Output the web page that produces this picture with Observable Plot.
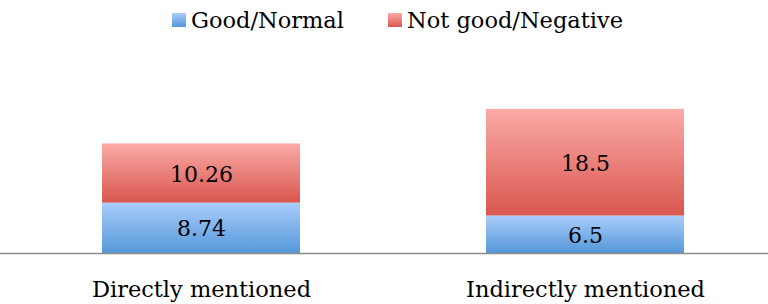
<!DOCTYPE html>
<html>
<head>
<meta charset="utf-8">
<script src="https://cdn.jsdelivr.net/npm/d3@7"></script>
<script src="https://cdn.jsdelivr.net/npm/@observablehq/plot@0.6"></script>
<style>
  html, body { margin: 0; padding: 0; background: #fff; }
  body { width: 768px; height: 304px; overflow: hidden; font-family: "DejaVu Serif", serif; }
  #legend { height: 40px; position: relative; font-size: 22.5px; color: #000; }
  .item { position: absolute; top: 5px; display: flex; align-items: center; white-space: nowrap; line-height: 30px; }
  .sw { width: 14px; height: 14px; margin-right: 5px; display: inline-block; }
  svg { display: block; }
</style>
</head>
<body>
<div id="legend"></div>
<div id="chart"></div>
<script>
const categories = ["Directly mentioned", "Indirectly mentioned"];
const seriesNames = ["Good/Normal", "Not good/Negative"];
const goodValues = [8.74, 6.5];
const badValues = [10.26, 18.5];
const valueLabels = [["8.74", "10.26"], ["6.5", "18.5"]];

const data = [];
categories.forEach((c, i) => {
  data.push({category: c, series: seriesNames[0], value: goodValues[i], label: valueLabels[i][0]});
  data.push({category: c, series: seriesNames[1], value: badValues[i], label: valueLabels[i][1]});
});

const gradIds = {"Good/Normal": "gBlue", "Not good/Negative": "gRed"};
const gradStops = {
  gBlue: ["#aacdfb", "#5598da"],
  gRed: ["#fbaaa7", "#d9574e"]
};

// legend
const legend = document.getElementById("legend");
const legendX = [172, 388];
seriesNames.forEach((s, i) => {
  const it = document.createElement("div");
  it.className = "item";
  it.style.left = legendX[i] + "px";
  const sw = document.createElement("span");
  sw.className = "sw";
  const st = gradStops[gradIds[s]];
  sw.style.background = `linear-gradient(${st[0]}, ${st[1]})`;
  it.appendChild(sw);
  it.appendChild(document.createTextNode(s));
  legend.appendChild(it);
});

const defs = () => {
  const svgNS = "http://www.w3.org/2000/svg";
  const d = document.createElementNS(svgNS, "defs");
  for (const [id, [a, b]] of Object.entries(gradStops)) {
    const g = document.createElementNS(svgNS, "linearGradient");
    g.setAttribute("id", id);
    g.setAttribute("x1", "0"); g.setAttribute("y1", "0");
    g.setAttribute("x2", "0"); g.setAttribute("y2", "1");
    const s1 = document.createElementNS(svgNS, "stop");
    s1.setAttribute("offset", "0"); s1.setAttribute("stop-color", a);
    const s2 = document.createElementNS(svgNS, "stop");
    s2.setAttribute("offset", "1"); s2.setAttribute("stop-color", b);
    g.appendChild(s1); g.appendChild(s2);
    d.appendChild(g);
  }
  return d;
};

const chart = Plot.plot({
  width: 768,
  height: 264,
  marginLeft: 0,
  marginRight: 0,
  marginTop: 40,
  marginBottom: 51,
  style: {fontFamily: "DejaVu Serif", fontSize: "22px", color: "#000", background: "#fff"},
  x: {domain: categories, range: [8, 777], paddingInner: 0.485, paddingOuter: 0.2425, label: null},
  y: {domain: [0, 30], range: [213, 40], axis: null},
  marks: [
    defs,
    Plot.barY(data, Plot.stackY({
      x: "category", y: "value", z: "series",
      fill: d => `url(#${gradIds[d.series]})`
    })),
    Plot.text(data, Plot.stackY({
      x: "category", y: "value", z: "series", text: "label",
      fontSize: 22, fill: "#000", dy: 1
    })),
    Plot.ruleY([0], {stroke: "#8c8c8c", strokeWidth: 1.5}),
    Plot.axisX({tickSize: 0, tickPadding: 28, fontSize: 22.5, label: null, fill: "#000"})
  ]
});
document.getElementById("chart").appendChild(chart);
</script>
</body>
</html>
